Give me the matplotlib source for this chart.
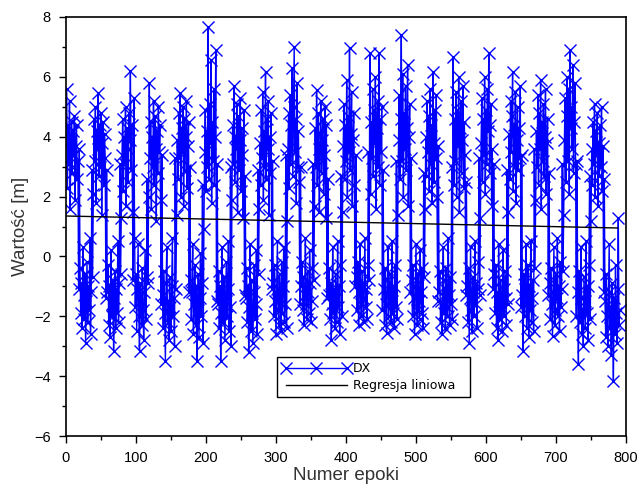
import numpy as np
import matplotlib
matplotlib.use("Agg")
import matplotlib.pyplot as plt
from matplotlib.ticker import MultipleLocator

# DX values per epoch, read block by block off the plot (high / low alternation)
dx = [
    # H1
    5.6, 2.3, 4.4, 3.1, 5.2, 1.6, 3.9, 4.5, 2.8, 4.2, 3.4, 4.7, 1.9, 3.7, 4.4, 2.6, 3.2, -1.1, 3.6,
    # L1
    -0.4, -1.9, -0.9, -2.4, 0.3, -1.3, -2.1, -0.6, -2.9, -1.5, -0.2, -2.2, -1.0, -1.8, 0.6, -2.6, -1.2, 2.9, -0.7,
    # H2
    2.1, 4.6, 3.2, 5.0, 1.8, 4.2, 3.6, 5.45, 2.7, 4.4, 3.0, 4.8, 1.4, 3.8, 4.5, 2.4, 4.1, 3.3, -1.4, 2.9,
    # L2
    -1.2, -0.3, -2.3, -1.0, -2.7, 0.2, -1.6, -2.0, -0.8, -3.15, -1.4, -0.5, -2.4, -1.1, -1.9, 0.5, -2.2, -0.9, 3.1, -0.6,
    # H3
    1.3, 3.4, 4.6, 2.2, 4.0, 3.1, 5.0, 1.7, 4.3, 3.6, 2.5, 4.8, 3.9, 6.2, 2.9, 4.4, 1.5, -0.8, 5.3, 0.6,
    # L3
    -1.7, -0.6, -2.5, -1.1, 0.4, -2.0, -3.15, -0.9, -1.5, -2.3, -0.4, -1.8, -2.8, -1.2, 0.2, -2.1, -0.7, 2.6, -0.9,
    # H4
    2.0, 5.8, 3.3, 4.5, 1.6, 4.0, 3.0, 5.2, 2.4, 4.7, 3.6, 1.2, 4.2, 2.8, 5.0, 3.5, 4.4, 1.9, -1.6, 3.4,
    # L4
    -1.3, -2.4, -0.5, -1.9, -3.5, -0.9, 0.3, -2.2, -1.5, -2.8, -0.7, -1.7, -2.5, -1.0, 0.6, -2.0, -1.4, -3.0, 3.3, -1.1,
    # H5
    1.4, 3.9, 2.6, 4.8, 3.3, 5.45, 2.0, 4.3, 3.5, 5.0, 1.7, 4.6, 2.9, 4.0, 5.2, 2.3, 3.7, 4.5, -1.2, 3.0,
    # L5
    -0.8, -2.1, -1.2, 0.4, -2.6, -1.6, -0.3, -2.3, -1.0, -3.5, -1.8, -0.6, -2.7, -1.4, 0.1, -2.0, -0.9, 2.4, -2.9,
    # H6
    0.9, 3.5, 4.9, 2.2, 4.2, 3.0, 7.65, 2.6, 5.1, 3.8, 6.55, 1.8, 4.5, 3.2, 5.6, 2.4, 4.0, 6.9, -1.5, 3.1,
    # L6
    -1.6, -0.5, -2.4, -1.0, -3.5, -1.9, 0.3, -2.2, -1.3, -0.7, -2.8, -1.5, -0.2, -2.0, -1.1, 0.5, -2.5, -1.7, 3.0, -3.0,
    # H7
    1.9, 4.4, 3.1, 5.7, 2.5, 4.0, 3.6, 5.1, 1.5, 4.7, 2.9, 3.9, 5.3, 2.2, 4.3, 3.4, 1.3, 4.9, -1.3, 2.7,
    # L7
    -1.4, -0.4, -2.2, -1.0, -3.2, -1.7, 0.4, -2.5, -0.8, -1.9, -2.9, -1.2, -0.3, -2.1, -1.6, 0.2, -2.6, 2.9, -0.6,
    # H8
    1.6, 3.8, 2.4, 4.9, 3.3, 5.5, 1.9, 4.2, 3.0, 6.15, 2.6, 4.6, 3.6, 5.2, 1.4, 4.0, 2.8, 4.8, -1.1, 3.2,
    # L8
    -0.9, -2.0, -0.3, -1.5, -2.6, -1.1, 0.5, -1.8, -2.3, -0.6, -1.4, -2.5, -0.2, -1.9, -1.0, 0.3, -2.2, -1.6, 3.4, -2.4,
    # H9
    1.2, 3.6, 4.8, 2.3, 5.4, 3.1, 4.4, 6.3, 2.7, 5.0, 7.0, 3.5, 4.6, 1.8, 5.8, 3.0, 4.2, 2.5, -1.6, 3.0,
    # L9
    -1.0, -0.2, -1.8, -0.7, -2.3, -1.3, 0.6, -1.6, -2.1, -0.5, -1.2, -1.9, 0.2, -0.9, -2.2, -1.5, -0.4, 3.1, -0.8,
    # H10
    1.7, 4.3, 3.0, 5.55, 2.4, 4.8, 3.6, 1.5, 4.1, 5.2, 2.8, 3.9, 4.6, 2.1, 3.4, 5.0, 1.3, 4.4, -1.4, 2.6,
    # L10
    -1.3, -0.4, -2.1, -0.9, -2.8, -1.6, 0.3, -1.9, -1.1, -2.4, -0.6, -1.4, -2.2, 0.5, -1.7, -1.0, -2.6, -0.3, 2.7, -2.0,
    # H11
    1.5, 3.7, 5.1, 2.6, 4.4, 3.2, 5.9, 2.0, 4.7, 3.5, 6.95, 2.9, 4.1, 5.5, 1.7, 3.9, 4.8, 2.4, -1.0, 3.4,
    # L11
    -0.7, -1.8, -0.2, -2.3, -1.2, 0.4, -1.6, -2.0, -0.5, -1.4, -2.2, -0.9, 0.6, -1.7, -1.1, -2.1, -0.3, 3.5, -0.8,
    # H12
    6.8, 2.1, 4.5, 3.3, 5.6, 2.7, 4.9, 3.8, 6.0, 1.6, 4.3, 5.2, 3.0, 6.8, 2.4, 4.6, 3.5, 5.0, -1.8, 2.9,
    # L12
    -1.1, -2.3, -0.4, -1.6, -2.55, -0.8, 0.3, -2.0, -1.3, -0.6, -2.2, -1.5, 0.5, -1.9, -1.0, -2.4, -0.3, -1.7, 3.2, -2.1,
    # H13
    1.4, 3.9, 5.4, 2.6, 4.6, 7.4, 3.2, 6.1, 2.0, 4.8, 3.6, 5.7, 2.9, 4.3, 6.4, 1.7, 4.0, 5.1, -1.2, 3.3,
    # L13
    -0.8, -2.0, -0.3, -1.4, -2.6, -1.0, 0.4, -1.8, -2.3, -0.6, -1.5, -2.1, 0.2, -1.2, -1.9, -0.4, -2.4, 2.8, -0.7,
    # H14
    1.6, 4.0, 2.7, 5.2, 3.5, 4.7, 2.2, 5.6, 3.1, 4.4, 1.8, 6.15, 3.8, 2.5, 4.9, 3.3, 5.4, 2.0, -1.5, 3.7,
    # L14
    -1.2, -0.5, -2.2, -1.5, -2.6, -0.8, 0.3, -1.9, -1.1, -2.4, -0.4, -1.7, -2.0, 0.6, -1.3, -2.3, -0.7, -1.6, 3.0, -2.1,
    # H15
    6.65, 2.4, 4.6, 3.2, 5.5, 2.0, 4.9, 3.7, 6.0, 1.5, 4.3, 5.2, 2.8, 3.9, 5.7, 2.3, 4.5, 3.4, -1.3, 2.5,
    # L15
    -1.0, -2.2, -0.4, -2.9, -1.4, 0.3, -1.8, -2.5, -0.7, -1.2, -2.0, 0.5, -1.6, -0.9, -2.4, -1.1, -0.2, 3.3, -1.3,
    # H16
    1.3, 3.8, 5.3, 2.5, 4.6, 3.4, 6.0, 2.1, 4.9, 3.1, 5.6, 4.2, 6.8, 2.8, 4.4, 5.1, 1.7, 3.6, -1.1, 3.1,
    # L16
    -0.6, -1.9, -0.3, -2.4, -1.2, -2.8, 0.4, -1.5, -2.1, -0.8, -1.7, -2.5, 0.2, -1.1, -2.0, -0.5, -1.4, -2.3, 2.9, -1.6,
    # H17
    1.5, 4.1, 2.6, 5.2, 3.5, 4.7, 6.15, 2.2, 4.4, 3.0, 5.5, 1.8, 3.9, 5.0, 2.9, 4.3, 3.3, 5.7, -1.7, 3.4,
    # L17
    -1.3, -3.15, -0.6, -2.0, -1.1, 0.4, -2.4, -1.6, -0.3, -2.7, -1.0, -1.8, 0.5, -2.2, -1.4, -0.8, -2.5, 3.6, -0.4,
    # H18
    1.9, 4.2, 3.0, 5.4, 2.4, 4.8, 3.6, 5.9, 1.6, 4.5, 3.2, 5.1, 2.7, 4.0, 5.6, 2.1, 3.8, 4.6, -1.3, 2.8,
    # L18
    -0.9, -2.1, -0.4, -1.6, -2.65, -1.2, 0.3, -1.8, -2.3, -0.6, -1.4, 0.6, -2.0, -1.0, -2.5, -0.2, -1.7, -1.1, 3.1, -0.5,
    # H19
    1.4, 3.9, 5.3, 2.5, 4.7, 6.0, 3.2, 5.6, 2.1, 6.9, 4.3, 5.0, 3.6, 6.4, 2.8, 4.5, 5.8, 3.1, -2.0, 3.2,
    # L19
    -1.2, -3.6, -0.5, -2.2, -1.4, 0.3, -2.6, -1.8, -3.0, -0.7, -1.5, -2.4, 0.5, -1.9, -1.0, -2.8, -0.3, 2.7, -2.1,
    # H20
    1.2, 3.6, 2.4, 4.5, 3.1, 5.1, 2.0, 4.2, 3.4, 4.8, 1.7, 3.8, 2.7, 4.4, 3.0, 5.0, 2.2, 3.7, -1.2, 2.6,
    # L20
    -1.5, -2.7, -0.6, -2.0, -3.0, -1.2, 0.4, -2.4, -1.7, -3.3, -0.9, -2.2, -4.15, -1.4, -2.6, -0.3, -1.9, -2.9, -1.1, 1.3, -2.3, -1.8,
]
epochs = np.arange(1, len(dx) + 1)

# linear regression line
reg_x = [1, 788]
reg_y = [1.35, 0.95]

BLUE = "#0000ff"
LABEL = "#333333"

plt.rcParams["font.family"] = ["Liberation Sans", "DejaVu Sans"]

fig = plt.figure(figsize=(6.39, 4.88), dpi=100)
ax = fig.add_axes([66 / 639, 52 / 488, 560 / 639, 419 / 488])

ax.plot(epochs, dx, color=BLUE, linewidth=1.0, marker="x", markersize=8.5,
        markeredgewidth=1.0, label="DX")
ax.plot(reg_x, reg_y, color="black", linewidth=1.0, label="Regresja liniowa")

ax.set_xlim(0, 800)
ax.set_ylim(-6, 8)
ax.xaxis.set_major_locator(MultipleLocator(100))
ax.xaxis.set_minor_locator(MultipleLocator(50))
ax.yaxis.set_major_locator(MultipleLocator(2))
ax.yaxis.set_minor_locator(MultipleLocator(1))
ax.tick_params(which="major", direction="out", length=5, width=1,
               labelsize=10.5, colors="black", top=False, right=False)
ax.tick_params(axis="x", which="major", pad=6)
ax.tick_params(axis="y", which="major", pad=6)
ax.tick_params(which="minor", direction="out", length=3, width=1, top=False, right=False)
for s in ax.spines.values():
    s.set_linewidth(1.2)
    s.set_color("black")

ax.set_xlabel("Numer epoki", fontsize=13.5, color=LABEL, labelpad=1)
ax.set_ylabel("Wartość [m]", fontsize=13.5, color=LABEL, labelpad=4)

leg = ax.legend(loc="upper left", bbox_to_anchor=(0.377, 0.086, 0.344, 0.1025),
                mode="expand", numpoints=3, handlelength=5.5, fancybox=False,
                framealpha=1, edgecolor="black", borderpad=0.4, labelspacing=0.35,
                handletextpad=0.15, borderaxespad=0,
                prop={"family": "DejaVu Sans", "size": 9})
leg.get_frame().set_linewidth(1.0)

fig.savefig("out.png", dpi=100)
